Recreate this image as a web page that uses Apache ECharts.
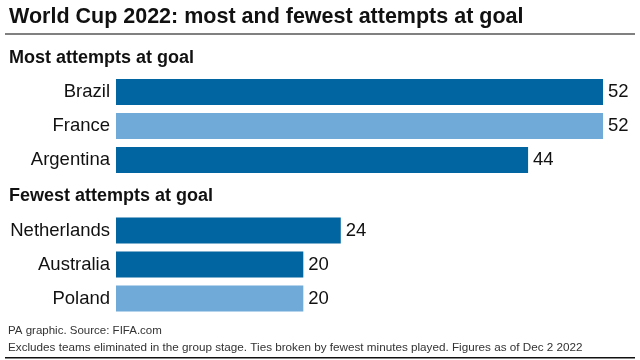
<!DOCTYPE html>
<html>
<head>
<meta charset="utf-8">
<style>
html,body{margin:0;padding:0;background:#fff;}
#chart{width:640px;height:360px;}
</style>
<script src="https://cdn.jsdelivr.net/npm/echarts@6/dist/echarts.min.js"></script>
</head>
<body>
<div id="chart"></div>
<script>
const titleText = 'World Cup 2022: most and fewest attempts at goal';
const mostTitle = 'Most attempts at goal';
const fewestTitle = 'Fewest attempts at goal';
const mostCategories = ['Brazil', 'France', 'Argentina'];
const mostValues = [52, 52, 44];
const fewestCategories = ['Netherlands', 'Australia', 'Poland'];
const fewestValues = [24, 20, 20];
const footer1 = 'PA graphic. Source: FIFA.com';
const footer2 = 'Excludes teams eliminated in the group stage. Ties broken by fewest minutes played. Figures as of Dec 2 2022';

const DARK = '#0065a0';
const LIGHT = '#6faad8';
const mostColors = [DARK, LIGHT, DARK];
const fewestColors = [DARK, DARK, LIGHT];
const FONT = '"Liberation Sans", Arial, Helvetica, sans-serif';

const chart = echarts.init(document.getElementById('chart'), null, {renderer: 'canvas'});

function yAx(idx, cats) {
  return {
    type: 'category', gridIndex: idx, data: cats, inverse: true,
    axisLine: {show: false}, axisTick: {show: false}, splitLine: {show: false},
    axisLabel: {color: '#111', fontSize: 18.5, fontFamily: FONT, margin: 6}
  };
}
function xAx(idx) {
  return {
    type: 'value', gridIndex: idx, min: 0, max: 52,
    axisLine: {show: false}, axisTick: {show: false}, splitLine: {show: false},
    axisLabel: {show: false}
  };
}
function ser(idx, vals, cols) {
  return {
    type: 'bar', xAxisIndex: idx, yAxisIndex: idx,
    data: vals.map((v, i) => ({value: v, itemStyle: {color: cols[i]}})),
    barWidth: 26,
    label: {show: true, position: 'right', distance: 5, color: '#111', fontSize: 18.5, fontFamily: FONT},
    animation: false
  };
}

chart.setOption({
  animation: false,
  grid: [
    {left: 116, width: 487, top: 75, height: 102},
    {left: 116, width: 487, top: 213.5, height: 102}
  ],
  xAxis: [xAx(0), xAx(1)],
  yAxis: [yAx(0, mostCategories), yAx(1, fewestCategories)],
  series: [ser(0, mostValues, mostColors), ser(1, fewestValues, fewestColors)],
  graphic: [
    {type: 'text', left: 9, top: 6, style: {text: titleText, font: 'bold 21.5px ' + FONT, fill: '#111'}},
    {type: 'rect', shape: {x: 5, y: 33, width: 630, height: 2}, style: {fill: '#808080'}},
    {type: 'text', left: 9, top: 49, style: {text: mostTitle, font: 'bold 18px ' + FONT, fill: '#111'}},
    {type: 'text', left: 9, top: 187, style: {text: fewestTitle, font: 'bold 18px ' + FONT, fill: '#111'}},
    {type: 'text', left: 8, top: 325, style: {text: footer1, font: '11.5px ' + FONT, fill: '#333'}},
    {type: 'text', left: 8, top: 342, style: {text: footer2, font: '11.7px ' + FONT, fill: '#333'}},
    {type: 'rect', shape: {x: 5, y: 357, width: 630, height: 1.5}, style: {fill: '#111'}}
  ]
});
</script>
</body>
</html>
